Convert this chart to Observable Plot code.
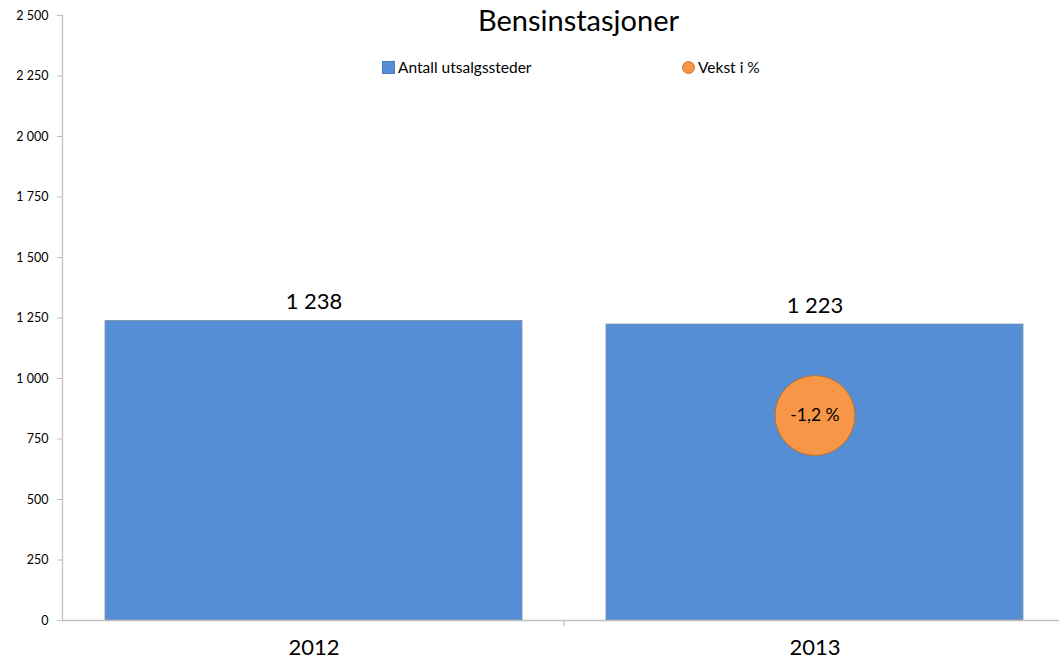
<!DOCTYPE html>
<html>
<head>
<meta charset="utf-8">
<script src="https://cdn.jsdelivr.net/npm/d3@7"></script>
<script src="https://cdn.jsdelivr.net/npm/@observablehq/plot@0.6"></script>
<style>
  html, body { margin: 0; padding: 0; background: #fff; overflow: hidden; }
  #wrap { position: relative; width: 1059px; height: 663px; overflow: hidden; font-family: Lato, "Open Sans", sans-serif; }
  #title { position: absolute; left: 0; width: 1157px; top: 0px; line-height: 40px; text-align: center; font-size: 29px; color: #000; }
  .leg { position: absolute; top: 57px; line-height: 20px; font-size: 15.5px; color: #000; display: flex; align-items: center; }
  .sw { display: inline-block; width: 11px; height: 11px; margin-right: 3px; }
  #chart { position: absolute; left: 0; top: 0; }
</style>
</head>
<body>
<div id="wrap">
  <div id="chart"></div>
  <div id="title">Bensinstasjoner</div>
  <div class="leg" style="left:382px"><span class="sw" style="background:#558ed5;border:0.5px solid #4a7ebb"></span>Antall utsalgssteder</div>
  <div class="leg" style="left:682px"><span class="sw" style="background:#f79646;border-radius:50%;border:0.5px solid #c97a3a"></span>Vekst i %</div>
</div>
<script>
const years = ["2012", "2013"];
const antall = [1238, 1223];
const vekst = [null, -1.2];
const vekstLevel = [null, 847];   // vertical placement of the growth bubble on the value axis
const yTicks = [0, 250, 500, 750, 1000, 1250, 1500, 1750, 2000, 2250, 2500];

const loc = d3.formatLocale({ decimal: ",", thousands: " ", grouping: [3], currency: ["", ""], minus: "-" });
const fmtInt = loc.format(",d");
const fmtPct = v => loc.format(".1f")(v) + " %";

const bars = years.map((y, i) => ({ year: y, value: antall[i] }));
const bubbles = years.map((y, i) => ({ year: y, growth: vekst[i], level: vekstLevel[i] })).filter(d => d.growth != null);

const W = 1059, H = 663;
const chart = Plot.plot({
  width: W,
  height: H,
  marginLeft: 62,
  marginRight: -7,
  marginTop: 15,
  marginBottom: 43,
  style: { fontFamily: "Lato, 'Open Sans', sans-serif", background: "transparent", overflow: "visible" },
  x: { domain: years, paddingInner: 0.167, paddingOuter: 0.0837, label: null },
  y: { domain: [0, 2500], label: null },
  marks: [
    Plot.barY(bars, { x: "year", y: "value", fill: "#558ed5", stroke: "#7f8fa6", strokeWidth: 0.8 }),
    Plot.text(bars, { x: "year", y: "value", text: d => fmtInt(d.value), lineAnchor: "bottom", dy: -12, fontSize: 22, fill: "#000" }),
    Plot.frame({ anchor: "left", stroke: "#bfbfbf", strokeWidth: 1.3 }),
    Plot.ruleY([0], { stroke: "#bfbfbf", strokeWidth: 1.3 }),
    Plot.axisY({ ticks: yTicks, tickFormat: fmtInt, tickSize: 5, tickPadding: 9, fontSize: 12.5, stroke: "#bfbfbf", color: "#000" }),
    Plot.axisX({ tickSize: 0, tickPadding: 19, fontSize: 22, color: "#000" }),
    // category boundary tick on the x axis
    (index, scales, values, dims) => {
      const x = scales.x;
      const step = x.step();
      const g = d3.create("svg:g");
      years.slice(1).forEach(y => {
        const bx = x(y) - (step - x.bandwidth()) / 2;
        const y0 = scales.y(0);
        g.append("line").attr("x1", bx).attr("x2", bx).attr("y1", y0).attr("y2", y0 + 6)
          .attr("stroke", "#bfbfbf").attr("stroke-width", 1.3);
      });
      return g.node();
    },
    Plot.dot(bubbles, { x: "year", y: "level", r: 40, fill: "#f79646", stroke: "#b8712f", strokeWidth: 1 }),
    Plot.text(bubbles, { x: "year", y: "level", text: d => fmtPct(d.growth), fontSize: 17.5, fill: "#000" })
  ]
});
document.getElementById("chart").appendChild(chart);
</script>
</body>
</html>
